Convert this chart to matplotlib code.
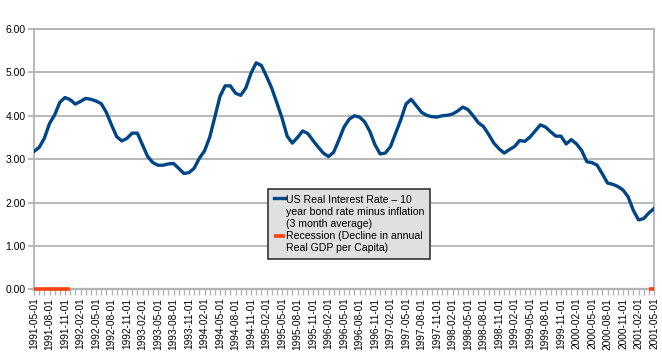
import numpy as np
import pandas as pd
import matplotlib
matplotlib.use("Agg")
import matplotlib.pyplot as plt
from matplotlib.legend_handler import HandlerLine2D

plt.rcParams['font.family'] = ['Liberation Sans', 'DejaVu Sans']

months = pd.date_range('1991-05-01', '2001-05-01', freq='MS').strftime('%Y-%m-%d').tolist()

real_rate = [
    3.18, 3.27, 3.48, 3.82, 4.02, 4.31, 4.42, 4.37, 4.27, 4.33,
    4.40, 4.38, 4.34, 4.28, 4.08, 3.79, 3.52, 3.42, 3.48, 3.60,
    3.60, 3.33, 3.06, 2.92, 2.86, 2.86, 2.89, 2.90, 2.79, 2.67,
    2.69, 2.79, 3.02, 3.19, 3.50, 3.97, 4.45, 4.69, 4.69, 4.52,
    4.47, 4.64, 4.98, 5.22, 5.16, 4.91, 4.64, 4.30, 3.95, 3.53,
    3.37, 3.50, 3.65, 3.59, 3.43, 3.28, 3.14, 3.06, 3.16, 3.44,
    3.74, 3.92, 4.00, 3.97, 3.86, 3.64, 3.33, 3.12, 3.14, 3.29,
    3.60, 3.91, 4.27, 4.38, 4.23, 4.08, 4.01, 3.98, 3.97, 4.00,
    4.01, 4.04, 4.11, 4.20, 4.14, 4.00, 3.84, 3.75, 3.57, 3.37,
    3.24, 3.14, 3.22, 3.29, 3.43, 3.41, 3.51, 3.65, 3.79, 3.74,
    3.63, 3.53, 3.53, 3.35, 3.45, 3.35, 3.20, 2.94, 2.92, 2.86,
    2.66, 2.45, 2.42, 2.37, 2.29, 2.13, 1.82, 1.60, 1.63, 1.76,
    1.86,
]

# Recession indicator: 0 during recession months, missing otherwise
recession_months = ['1991-05-01', '1991-06-01', '1991-07-01', '1991-08-01',
                    '1991-09-01', '1991-10-01', '1991-11-01', '1991-12-01',
                    '2001-04-01', '2001-05-01']
recession = [0.0 if m in recession_months else np.nan for m in months]

y_ticks = [0, 1, 2, 3, 4, 5, 6]


class TopLine(HandlerLine2D):
    """Legend handle drawn level with the first line of a multi-line label."""
    def __init__(self, shift, **kw):
        super().__init__(**kw)
        self.shift = shift

    def create_artists(self, legend, orig_handle, xdescent, ydescent,
                       width, height, fontsize, trans):
        arts = super().create_artists(legend, orig_handle, xdescent, ydescent,
                                      width, height, fontsize, trans)
        for a in arts:
            yd = np.asarray(a.get_ydata(), dtype=float)
            a.set_ydata(yd + self.shift * fontsize)
        return arts


fig = plt.figure(figsize=(6.62, 3.61), dpi=100)
ax = fig.add_axes([34/662, 1 - 289.3/361, 620/662, 260.3/361])

x = np.arange(len(months))
grid_c = '#b3b3b3'

l1, = ax.plot(x, real_rate, color='#004586', lw=2.4, solid_joinstyle='round',
              label='US Real Interest Rate \u2013 10\nyear bond rate minus inflation\n(3 month average)', zorder=3)
l2, = ax.plot(x, recession, color='#ff420e', lw=2.6, solid_capstyle='butt',
              label='Recession (Decline in annual\nReal GDP per Capita)', zorder=4, clip_on=False)

ax.set_xlim(0, len(months) - 1)
ax.set_ylim(0, 6)
ax.set_yticks(y_ticks)
ax.set_yticklabels([f'{v:.2f}' for v in y_ticks], fontsize=7.5)
ax.yaxis.grid(True, color=grid_c, lw=1.3)
ax.set_axisbelow(True)

ax.set_xticks(x[::3])
ax.set_xticklabels(months[::3], rotation=90, fontsize=7.3)
ax.set_xticks(x, minor=True)
ax.tick_params(axis='x', which='both', length=4, color=grid_c, width=1, pad=2)
ax.tick_params(axis='y', length=4, color=grid_c, width=1.3, pad=2)

for s in ['left', 'right', 'top', 'bottom']:
    ax.spines[s].set_color(grid_c)
    ax.spines[s].set_linewidth(1.3)
ax.spines['bottom'].set_linewidth(1.6)

leg = ax.legend(handles=[l1, l2], loc='upper left', bbox_to_anchor=(0.378, 0.384),
                fontsize=7.6, frameon=True, fancybox=False,
                handlelength=1.05, handletextpad=0.12, borderpad=0.5, labelspacing=0.25,
                borderaxespad=0,
                handler_map={l1: TopLine(1.3), l2: TopLine(0.65)})
leg.get_frame().set_facecolor('#e0e0e0')
leg.get_frame().set_edgecolor('#333333')
leg.get_frame().set_linewidth(1.2)
leg.get_frame().set_alpha(1)
for t in leg.get_texts():
    t.set_linespacing(1.25)

fig.savefig('out.png', dpi=100)
